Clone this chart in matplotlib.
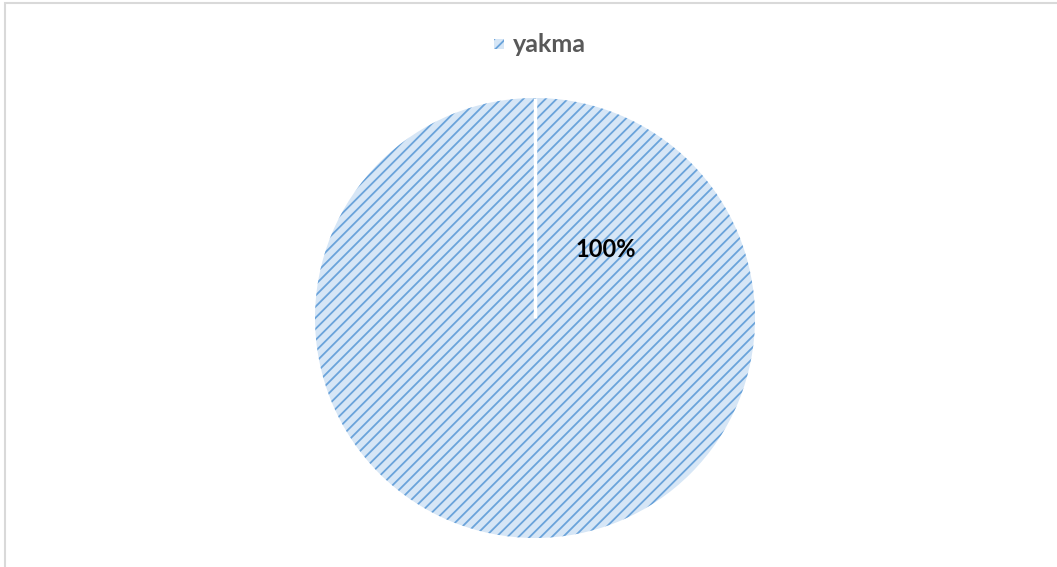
import numpy as np
import matplotlib.pyplot as plt
from matplotlib.patches import Rectangle

categories = ["yakma"]
values = [100]
pct_labels = ["100%"]

face = "#d6e6f6"
hatch_col = "#6aa3da"

plt.rcParams["font.family"] = ["Lato", "DejaVu Sans"]
plt.rcParams["hatch.linewidth"] = 1.3
plt.rcParams["hatch.color"] = hatch_col

fig = plt.figure(figsize=(10.57, 5.67), dpi=100)
fig.patch.set_facecolor("white")

# chart frame
fig.add_artist(Rectangle((5 / 1057, -0.01), 1.02, 1 - 3 / 567 + 0.01,
                         transform=fig.transFigure, fill=False,
                         edgecolor="#d9d9d9", linewidth=1.5))

ax = fig.add_axes([(535 - 220) / 1057, (567 - 538) / 567, 440 / 1057, 440 / 567])
ax.set_aspect("equal")

wedges, _ = ax.pie(values, startangle=90, counterclock=False,
                   colors=[face], radius=1,
                   wedgeprops=dict(edgecolor=hatch_col, linewidth=0, hatch="///"))

# white boundary between the start and end of the slice
w = wedges[0]
cx, cy = w.center
ang = np.deg2rad(w.theta2)
ax.plot([cx, cx + w.r * np.cos(ang)], [cy, cy + w.r * np.sin(ang)],
        color="white", linewidth=2.5, solid_capstyle="butt")

ax.set_xlim(-1, 1)
ax.set_ylim(-1, 1)
ax.axis("off")

ax.text(0.32, 0.31, pct_labels[0], ha="center", va="center",
        fontsize=17, fontweight="bold", color="black")

# legend
lx, ly = 499 / 1057, 1 - 44 / 567
fig.add_artist(Rectangle((lx - 5 / 1057, ly - 5 / 567), 10 / 1057, 10 / 567,
                         transform=fig.transFigure, facecolor=face,
                         edgecolor=hatch_col, linewidth=0, hatch="///"))
fig.text(lx + 14 / 1057, ly, categories[0], ha="left", va="center",
         fontsize=18, fontweight="bold", color="#595959")

fig.savefig("out.png", dpi=100)
